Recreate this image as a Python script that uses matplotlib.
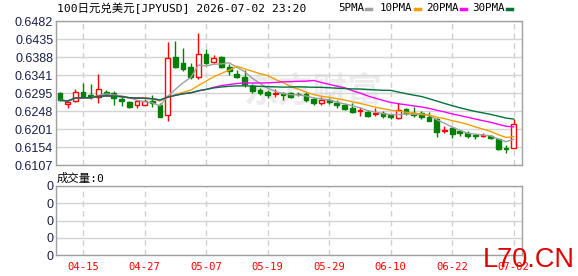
import numpy as np
import pandas as pd
import matplotlib
matplotlib.use("Agg")
import matplotlib.pyplot as plt
from matplotlib.lines import Line2D

# ---------------- data ----------------
dates = ["04-15", "04-27", "05-07", "05-19", "05-29", "06-10", "06-22", "07-02"]
date_idx = [3, 11, 19, 27, 35, 43, 51, 59]

opens = [0.6294, 0.6265, 0.6273, 0.6297, 0.6290, 0.6283, 0.6297, 0.6295, 0.6279, 0.6271,
         0.6262, 0.6264, 0.6273, 0.6263, 0.6237, 0.6388, 0.6373, 0.6362, 0.6336, 0.6396,
         0.6375, 0.6388, 0.6362, 0.6343, 0.6336, 0.6312, 0.6302, 0.6297, 0.6292, 0.6294,
         0.6294, 0.6293, 0.6292, 0.6279, 0.6268, 0.6276, 0.6268, 0.6263, 0.6255, 0.6247,
         0.6245, 0.6239, 0.6242, 0.6237, 0.6229, 0.6253, 0.6242, 0.6242, 0.6232, 0.6227,
         0.6195, 0.6203, 0.6195, 0.6190, 0.6185, 0.6182, 0.6182, 0.6174, 0.6151, 0.6150]
highs = [0.6297, 0.6272, 0.6305, 0.6320, 0.6318, 0.6343, 0.6302, 0.6299, 0.6283, 0.6274,
         0.6277, 0.6280, 0.6290, 0.6268, 0.6427, 0.6430, 0.6411, 0.6372, 0.6451, 0.6409,
         0.6393, 0.6391, 0.6369, 0.6354, 0.6354, 0.6318, 0.6307, 0.6302, 0.6305, 0.6297,
         0.6297, 0.6297, 0.6297, 0.6283, 0.6284, 0.6281, 0.6276, 0.6268, 0.6268, 0.6258,
         0.6250, 0.6255, 0.6247, 0.6240, 0.6268, 0.6255, 0.6258, 0.6247, 0.6245, 0.6229,
         0.6208, 0.6206, 0.6195, 0.6195, 0.6187, 0.6190, 0.6184, 0.6177, 0.6158, 0.6226]
lows = [0.6274, 0.6255, 0.6271, 0.6282, 0.6278, 0.6268, 0.6287, 0.6262, 0.6261, 0.6255,
        0.6255, 0.6262, 0.6258, 0.6232, 0.6221, 0.6359, 0.6353, 0.6332, 0.6331, 0.6370,
        0.6372, 0.6359, 0.6341, 0.6333, 0.6310, 0.6294, 0.6289, 0.6281, 0.6284, 0.6276,
        0.6281, 0.6286, 0.6270, 0.6263, 0.6263, 0.6266, 0.6255, 0.6250, 0.6242, 0.6235,
        0.6232, 0.6234, 0.6229, 0.6228, 0.6227, 0.6238, 0.6232, 0.6227, 0.6221, 0.6179,
        0.6190, 0.6177, 0.6182, 0.6177, 0.6174, 0.6179, 0.6174, 0.6145, 0.6138, 0.6150]
closes = [0.6276, 0.6271, 0.6297, 0.6284, 0.6283, 0.6305, 0.6293, 0.6282, 0.6273, 0.6258,
          0.6273, 0.6273, 0.6268, 0.6232, 0.6385, 0.6362, 0.6358, 0.6336, 0.6396, 0.6372,
          0.6385, 0.6362, 0.6351, 0.6336, 0.6317, 0.6299, 0.6294, 0.6289, 0.6294, 0.6289,
          0.6284, 0.6291, 0.6276, 0.6268, 0.6276, 0.6271, 0.6262, 0.6253, 0.6245, 0.6250,
          0.6234, 0.6242, 0.6234, 0.6232, 0.6250, 0.6242, 0.6237, 0.6232, 0.6221, 0.6192,
          0.6197, 0.6187, 0.6190, 0.6182, 0.6182, 0.6184, 0.6177, 0.6148, 0.6148, 0.6213]

ma_labels = ["5PMA", "10PMA", "20PMA", "30PMA"]
ma_windows = [5, 10, 20, 30]
ma_colors = ["#a0a0a0", "#f0a000", "#ff00ff", "#00733a"]

price_tick_labels = ["0.6107", "0.6154", "0.6201", "0.6248", "0.6295",
                     "0.6341", "0.6388", "0.6435", "0.6482"]
volume_tick_labels = ["0", "0", "0", "0", "0"]

title = "100日元兑美元[JPYUSD] 2026-07-02 23:20"
vol_title = "成交量:0"

# ---------------- figure ----------------
W, H = 578, 276
fig = plt.figure(figsize=(W / 100, H / 100), dpi=100)
fig.patch.set_facecolor("white")

def fx(px):
    return px / W

def fy(py):
    return 1 - py / H

ax = fig.add_axes([fx(56), fy(165), fx(522) - fx(56), (165 - 21) / H])
axv = fig.add_axes([fx(56), fy(255), fx(522) - fx(56), (255 - 186) / H])

mono_cjk = ["DejaVu Sans Mono", "Noto Sans CJK SC"]
label_color = "#1a1f4a"
red = "#ff0000"
green = "#008000"
frame_color = "#a0a0a0"
grid_color = "#d4d4d4"

n = len(closes)
x = np.arange(n)

# watermark
ax.text(33.0, 0.6300, "东方财富", ha="center", va="center", fontsize=25,
        color="#ececec", fontweight="bold", family=["Noto Sans CJK SC"], zorder=0)

# candles
for i in range(n):
    o, h, l, c = opens[i], highs[i], lows[i], closes[i]
    up = c >= o
    col = red if up else green
    ax.vlines(i, l, h, color=col, lw=1, zorder=2)
    ax.bar(i, abs(c - o), bottom=min(o, c), width=0.62,
           facecolor="white" if up else green, edgecolor=col, linewidth=1, zorder=3)

# moving averages
s = pd.Series(closes)
for lab, w, colr in zip(ma_labels, ma_windows, ma_colors):
    ma = s.rolling(w, min_periods=1).mean()
    ax.plot(x, ma, color=colr, lw=1, zorder=4)

yt = np.linspace(0.6107, 0.6482, len(price_tick_labels))
ax.set_ylim(yt[0], yt[-1])
ax.set_xlim(-0.52, n + 0.08)
ax.set_yticks(yt)
ax.set_yticklabels(price_tick_labels, family="Liberation Sans", fontsize=9, color=label_color)
ax.set_xticks(date_idx)
ax.set_xticklabels([])
ax.tick_params(length=0, pad=2)
ax.grid(axis="y", color=grid_color, lw=1, zorder=0)
ax.grid(axis="x", color="#d0d0d0", lw=1, linestyle=(0, (4, 3)), zorder=0)
for sp in ax.spines.values():
    sp.set_color(frame_color)
    sp.set_linewidth(1)

# volume panel
axv.set_xlim(-0.52, n + 0.08)
axv.set_ylim(0, len(volume_tick_labels) - 1)
axv.set_yticks(range(len(volume_tick_labels)))
axv.set_yticklabels(volume_tick_labels, family="Liberation Sans", fontsize=9, color=label_color)
axv.set_xticks(date_idx)
axv.set_xticklabels(dates, family="DejaVu Sans Mono", fontsize=7.6, color=red)
axv.tick_params(length=0, pad=2)
axv.tick_params(axis="x", pad=5)
axv.grid(axis="y", color=grid_color, lw=1, zorder=0)
axv.grid(axis="x", color="#d0d0d0", lw=1, linestyle=(0, (4, 3)), zorder=0)
for sp in axv.spines.values():
    sp.set_color(frame_color)
    sp.set_linewidth(1)

# texts
fig.text(fx(57), fy(8), title, ha="left", va="center", fontsize=8.2, family=mono_cjk, color="black")
fig.text(fx(57), fy(178), vol_title, ha="left", va="center", fontsize=8.2, family=mono_cjk, color="black")

leg_text_x = [338, 380, 426, 472]
for lab, colr, lx in zip(ma_labels, ma_colors, leg_text_x):
    t = fig.text(fx(lx), fy(8), lab, ha="left", va="center", fontsize=7.8,
                 family="DejaVu Sans Mono", color="black")
    wpx = len(lab) * 6.3
    fig.add_artist(Line2D([fx(lx + wpx + 3), fx(lx + wpx + 8)], [fy(9), fy(9)],
                          transform=fig.transFigure, color=colr, lw=2.5))

fig.text(fx(483), fy(267), "L70.CN", ha="left", va="baseline", fontsize=19.5,
         family="Liberation Sans", color="#e00000")

fig.savefig("out.png", dpi=100)
